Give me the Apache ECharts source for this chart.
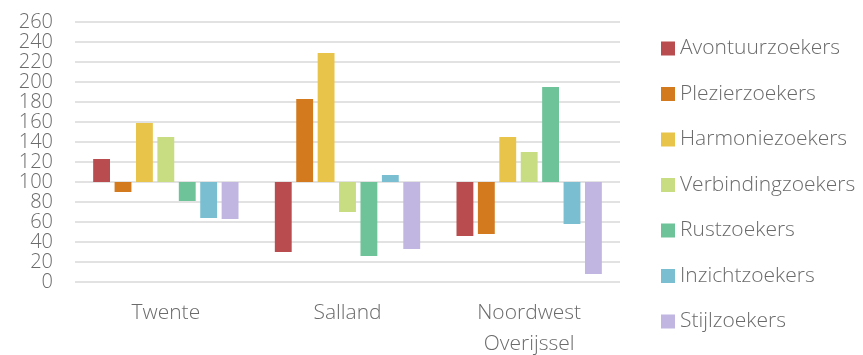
<!DOCTYPE html>
<html>
<head>
<meta charset="utf-8">
<script src="https://cdn.jsdelivr.net/npm/echarts@6/dist/echarts.min.js"></script>
<style>
  html, body { margin: 0; padding: 0; background: #fff; }
  #chart { width: 863px; height: 355px; }
</style>
</head>
<body>
<div id="chart"></div>
<script>
// index values, 100 = average
const regions = ['Twente', 'Salland', 'Noordwest\nOverijssel'];
const baseline = 100;

const avontuurzoekers = [123, 30, 46];
const plezierzoekers = [90, 183, 48];
const harmoniezoekers = [159, 229, 145];
const verbindingzoekers = [145, 70, 130];
const rustzoekers = [81, 26, 195];
const inzichtzoekers = [64, 107, 58];
const stijlzoekers = [63, 33, 8];

const seriesDefs = [
  { name: 'Avontuurzoekers', data: avontuurzoekers, color: '#b84c4f' },
  { name: 'Plezierzoekers', data: plezierzoekers, color: '#d37a1e' },
  { name: 'Harmoniezoekers', data: harmoniezoekers, color: '#e9c44a' },
  { name: 'Verbindingzoekers', data: verbindingzoekers, color: '#c8dc82' },
  { name: 'Rustzoekers', data: rustzoekers, color: '#6fc398' },
  { name: 'Inzichtzoekers', data: inzichtzoekers, color: '#7abfd1' },
  { name: 'Stijlzoekers', data: stijlzoekers, color: '#c1b5e1' },
];

const font = 'Open Sans';
const textColor = '#6b6b6b';
const fontSize = 21;

const chart = echarts.init(document.getElementById('chart'));
const option = {
  backgroundColor: '#fff',
  animation: false,
  grid: { left: 75, right: 243, top: 22, bottom: 73, containLabel: false, outerBoundsMode: 'none' },
  legend: {
    orient: 'vertical',
    left: 656,
    top: 33,
    itemWidth: 14,
    itemHeight: 14,
    itemGap: 24.5,
    icon: 'rect',
    textStyle: { fontFamily: font, fontWeight: 300, fontSize: fontSize, color: textColor },
    data: seriesDefs.map((s) => s.name),
  },
  xAxis: {
    type: 'category',
    data: regions,
    axisLine: { show: false },
    axisTick: { show: false },
    axisLabel: {
      fontFamily: font,
      fontWeight: 300,
      fontSize: fontSize,
      color: textColor,
      lineHeight: 31,
      margin: 16,
    },
  },
  yAxis: {
    type: 'value',
    // bars are drawn relative to the baseline of 100
    min: -100,
    max: 160,
    interval: 20,
    axisLine: { show: false },
    axisTick: { show: false },
    splitLine: { lineStyle: { color: '#d9d9d9', width: 1.5 } },
    axisLabel: {
      fontFamily: font,
      fontWeight: 300,
      fontSize: 20,
      color: textColor,
      margin: 22,
      formatter: (v) => String(v + baseline),
    },
  },
  series: seriesDefs.map((s) => ({
    name: s.name,
    type: 'bar',
    data: s.data.map((v) => v - baseline),
    itemStyle: { color: s.color },
    barGap: '27%',
    barCategoryGap: '20%',
  })),
};
chart.setOption(option);
</script>
</body>
</html>
